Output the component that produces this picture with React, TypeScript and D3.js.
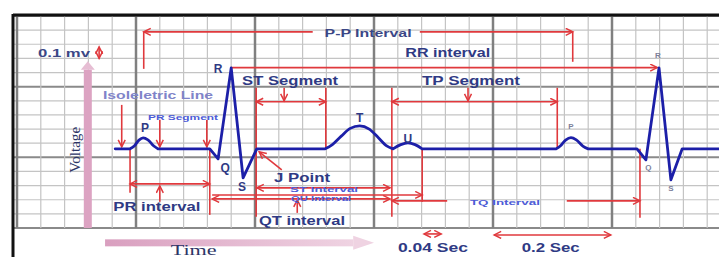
import React from 'react';
import * as d3 from 'd3';

type Pt = [number, number];

// ECG trace, [time in s, voltage in mV], isoelectric baseline = 0 mV
const leadIn: Pt[] = [[0.165, 0], [0.19, 0]];
const pWave1: Pt[] = [[0.19, 0], [0.197, 0.02], [0.205, 0.062], [0.212, 0.078], [0.22, 0.064], [0.23, 0.02], [0.237, 0]];
const qrs1: Pt[] = [[0.237, 0], [0.324, 0], [0.338, -0.071], [0.36, 0.573], [0.38, -0.205], [0.403, 0], [0.518, 0]];
const tWave: Pt[] = [[0.518, 0], [0.53, 0.03], [0.545, 0.09], [0.56, 0.145], [0.576, 0.163], [0.592, 0.14], [0.607, 0.08], [0.62, 0.025], [0.632, 0]];
const uWave: Pt[] = [[0.632, 0], [0.645, 0.03], [0.657, 0.042], [0.669, 0.03], [0.681, 0]];
const tpSeg: Pt[] = [[0.681, 0], [0.906, 0]];
const pWave2: Pt[] = [[0.906, 0], [0.913, 0.02], [0.922, 0.062], [0.931, 0.08], [0.94, 0.064], [0.951, 0.02], [0.96, 0]];
const qrs2: Pt[] = [[0.96, 0], [1.042, 0], [1.057, -0.078], [1.079, 0.573], [1.099, -0.219], [1.118, 0], [1.18, 0]];

const segments: { pts: Pt[]; smooth: boolean }[] = [
  { pts: leadIn, smooth: false },
  { pts: pWave1, smooth: true },
  { pts: qrs1, smooth: false },
  { pts: tWave, smooth: true },
  { pts: uWave, smooth: true },
  { pts: tpSeg, smooth: false },
  { pts: pWave2, smooth: true },
  { pts: qrs2, smooth: false },
];

// measurement lines: [t0, t1, mV, arrow at start, arrow at end]
const spans: [number, number, number, boolean, boolean][] = [
  [0.213, 0.497, 0.828, true, false], // P-P
  [0.677, 0.934, 0.828, false, true],
  [0.36, 1.076, 0.575, false, true], // RR
  [0.402, 0.519, 0.333, true, true], // ST segment
  [0.63, 0.908, 0.333, true, true], // TP segment
  [0.19, 0.324, -0.248, true, true], // PR interval
  [0.403, 0.627, -0.276, true, true], // ST interval
  [0.328, 0.681, -0.326, false, true], // QU interval
  [0.328, 0.627, -0.354, true, true], // QT interval
  [0.63, 0.723, -0.368, true, false], // TQ interval
  [0.924, 1.047, -0.368, false, true],
  [0.684, 0.713, -0.602, true, true], // 0.04 s
  [0.802, 0.998, -0.609, true, true], // 0.2 s
];

// vertical guide lines: [t, top mV, bottom mV]
const guides: [number, number, number][] = [
  [0.213, 0.828, 0.566],
  [0.934, 0.828, 0.616],
  [0.19, 0, -0.311],
  [0.324, 0, -0.467],
  [0.402, 0.432, -0.481],
  [0.519, 0.432, 0],
  [0.63, 0.432, -0.481],
  [0.908, 0.432, 0],
  [0.681, 0, -0.375],
  [1.047, 0, -0.488],
];

// pointer arrows: [t0, mV0, t1, mV1, double-headed]
const pointers: [number, number, number, number, boolean][] = [
  [0.176, 0.311, 0.176, 0.014, false],
  [0.24, 0.205, 0.24, 0.014, false],
  [0.319, 0.205, 0.319, 0.014, false],
  [0.449, 0.432, 0.449, 0.34, false],
  [0.758, 0.432, 0.758, 0.34, false],
  [0.24, -0.375, 0.24, -0.262, false],
  [0.471, -0.453, 0.471, -0.361, false],
  [0.445, -0.149, 0.407, -0.021, false], // J point
  [0.138, 0.722, 0.138, 0.64, true], // 0.1 mV
];

// labels: [text, t, mV, kind, width]
const labels: [string, number, number, string, number][] = [
  ['0.1 mv', 0.079, 0.679, 'mid', 52],
  ['P-P Interval', 0.59, 0.821, 'mid', 87],
  ['RR interval', 0.724, 0.679, 'big', 85],
  ['ST Segment', 0.459, 0.481, 'big', 96],
  ['TP Segment', 0.763, 0.481, 'big', 98],
  ['Isoleletric Line', 0.237, 0.382, 'light', 110],
  ['PR Segment', 0.279, 0.219, 'tiny', 70],
  ['J Point', 0.479, -0.205, 'big', 56],
  ['ST Interval', 0.516, -0.29, 'tiny', 68],
  ['QU Interval', 0.511, -0.354, 'tiny', 60],
  ['PR interval', 0.235, -0.41, 'big', 87],
  ['QT interval', 0.479, -0.51, 'big', 86],
  ['TQ Interval', 0.82, -0.382, 'tiny', 70],
  ['0.04 Sec', 0.699, -0.701, 'big', 70],
  ['0.2 Sec', 0.897, -0.701, 'big', 58],
  ['Time', 0.297, -0.715, 'serif', 46],
];
const waveLabels: [string, number, number][] = [
  ['P', 0.215, 0.149], ['R', 0.338, 0.566], ['Q', 0.35, -0.134], ['S', 0.378, -0.269],
  ['T', 0.576, 0.219], ['U', 0.657, 0.071],
];
const waveLabels2: [string, number, number][] = [
  ['P', 0.931, 0.156], ['R', 1.077, 0.658], ['Q', 1.061, -0.134], ['S', 1.099, -0.283],
];

const W = 719;
const H = 257;
const x = d3.scaleLinear().domain([0, 1.18]).range([17, 719.1]);
const y = d3.scaleLinear().domain([-0.56, 0.94]).range([228, 16]);

const RED = '#e0393d';
const NAVY = '#2f3a84';
const styles: Record<string, { size: number; color: string; weight: string; family?: string }> = {
  mid: { size: 11, color: '#3b4786', weight: 'bold' },
  big: { size: 12, color: NAVY, weight: 'bold' },
  light: { size: 11, color: '#7f84c9', weight: 'bold' },
  tiny: { size: 7.5, color: '#4d5bd6', weight: 'bold' },
  serif: { size: 15, color: '#2c3566', weight: 'normal', family: 'Liberation Serif, serif' },
};

export default function App() {
  const lineLin = d3.line<Pt>().x((d) => x(d[0])).y((d) => y(d[1]));
  const lineSmooth = d3.line<Pt>().x((d) => x(d[0])).y((d) => y(d[1])).curve(d3.curveMonotoneX);
  const traceD = segments
    .map((s, i) => {
      const d = (s.smooth ? lineSmooth : lineLin)(s.pts) || '';
      return i === 0 ? d : 'L' + d.slice(1);
    })
    .join('');

  const vGrid = d3.range(0, 30).map((k) => k * 0.04);
  const hGrid = d3.range(0, 16).map((k) => -0.56 + k * 0.1);

  return (
    <svg width={W} height={H} style={{ position: 'absolute', left: 0, top: 0 }} fontFamily="Liberation Sans, Arial, sans-serif">
      <defs>
        <marker id="arr" markerUnits="userSpaceOnUse" markerWidth={10} markerHeight={10} refX={8} refY={4} orient="auto-start-reverse">
          <path d="M1,0.5 L8,4 L1,7.5" fill="none" stroke={RED} strokeWidth={1.5} />
        </marker>
        <linearGradient id="timeGrad" x1="0" x2="1" y1="0" y2="0">
          <stop offset="0" stopColor="#d99fbf" />
          <stop offset="1" stopColor="#efd3e2" />
        </linearGradient>
      </defs>
      <rect width={W} height={H} fill="#fff" />

      {/* paper grid */}
      {hGrid.map((v, i) => (
        <line key={'h' + i} x1={13} x2={W} y1={y(v)} y2={y(v)} stroke={i % 5 === 0 ? '#8a8a8a' : '#c4c4c4'} strokeWidth={i % 5 === 0 ? 2 : 1.2} />
      ))}
      {vGrid.map((t, i) => (
        <line key={'v' + i} x1={x(t)} x2={x(t)} y1={y(0.94)} y2={y(-0.56)} stroke={i % 5 === 0 ? '#808080' : '#c4c4c4'} strokeWidth={i % 5 === 0 ? 2.5 : 1.2} />
      ))}
      <line x1={13} x2={W} y1={15} y2={15} stroke="#111" strokeWidth={3} />
      <line x1={13} x2={13} y1={14} y2={H} stroke="#111" strokeWidth={3} />

      {/* axis arrows */}
      <rect x={x(0.119) - 4} y={y(0.56)} width={8} height={y(-0.56) - y(0.56)} fill="#dca3c2" />
      <path d={`M${x(0.119) - 7},${y(0.56)} L${x(0.119)},${y(0.62)} L${x(0.119) + 7},${y(0.56)} Z`} fill="#e6bdd3" />
      <rect x={x(0.148)} y={y(-0.665) - 3.5} width={x(0.565) - x(0.148)} height={7} fill="url(#timeGrad)" />
      <path d={`M${x(0.565)},${y(-0.665) - 7} L${x(0.6)},${y(-0.665)} L${x(0.565)},${y(-0.665) + 7} Z`} fill="#efd3e2" />

      {/* annotation lines */}
      <g stroke={RED} strokeWidth={1.6} fill="none">
        {guides.map((g, i) => (
          <line key={'g' + i} x1={x(g[0])} x2={x(g[0])} y1={y(g[1])} y2={y(g[2])} />
        ))}
        {spans.map((s, i) => (
          <line
            key={'s' + i}
            x1={x(s[0])}
            x2={x(s[1])}
            y1={y(s[2])}
            y2={y(s[2])}
            markerStart={s[3] ? 'url(#arr)' : undefined}
            markerEnd={s[4] ? 'url(#arr)' : undefined}
          />
        ))}
        {pointers.map((p, i) => (
          <line
            key={'p' + i}
            x1={x(p[0])}
            y1={y(p[1])}
            x2={x(p[2])}
            y2={y(p[3])}
            markerEnd="url(#arr)"
            markerStart={p[4] ? 'url(#arr)' : undefined}
          />
        ))}
      </g>

      {/* ECG trace */}
      <path d={traceD} fill="none" stroke="#1c1fa8" strokeWidth={2.8} strokeLinejoin="round" strokeLinecap="round" />

      {/* labels */}
      {labels.map(([text, t, v, kind, w], i) => {
        const s = styles[kind];
        return (
          <text
            key={'l' + i}
            x={x(t)}
            y={y(v)}
            textAnchor="middle"
            dominantBaseline="central"
            fontSize={s.size}
            fontWeight={s.weight}
            fill={s.color}
            fontFamily={s.family}
            textLength={w}
            lengthAdjust="spacingAndGlyphs"
          >
            {text}
          </text>
        );
      })}
      <text
        transform={`translate(${x(0.097)},${y(-0.007)}) rotate(-90)`}
        textAnchor="middle"
        dominantBaseline="central"
        fontSize={15}
        fill="#2c3566"
        fontFamily="Liberation Serif, serif"
        textLength={46}
        lengthAdjust="spacingAndGlyphs"
      >
        Voltage
      </text>
      {waveLabels.map(([text, t, v], i) => (
        <text key={'w' + i} x={x(t)} y={y(v)} textAnchor="middle" dominantBaseline="central" fontSize={12} fontWeight="bold" fill={NAVY}>
          {text}
        </text>
      ))}
      {waveLabels2.map(([text, t, v], i) => (
        <text key={'w2' + i} x={x(t)} y={y(v)} textAnchor="middle" dominantBaseline="central" fontSize={8} fontWeight="bold" fill="#7d7f9a">
          {text}
        </text>
      ))}
    </svg>
  );
}
